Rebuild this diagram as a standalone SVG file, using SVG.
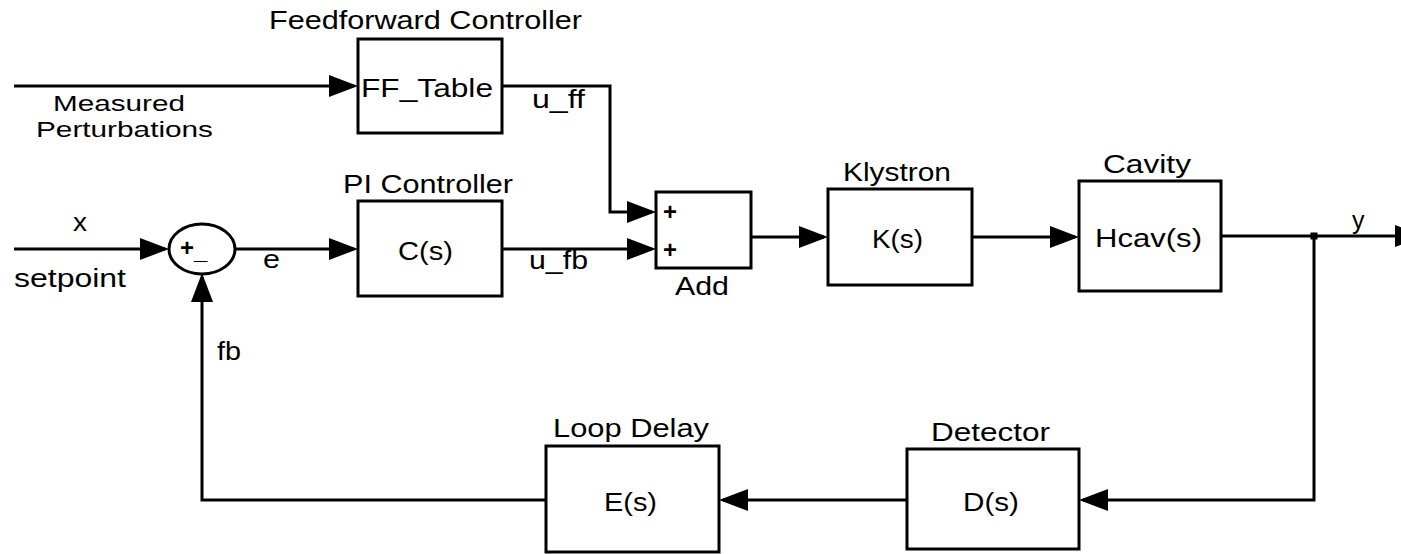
<svg xmlns="http://www.w3.org/2000/svg" width="1401" height="554" viewBox="0 0 1401 554">
<style>
  .blk { fill: #ffffff; stroke: #000000; stroke-width: 3; }
  .wire { fill: none; stroke: #000000; stroke-width: 3; marker-end: url(#arr); }
  text { font-family: "Liberation Sans", Arial, sans-serif; font-size: 25px; fill: #000000; }
  .sm { font-size: 24px; font-weight: bold; }
  .two { font-size: 22px; }
</style>
<defs>
  <marker id="arr" markerUnits="userSpaceOnUse" markerWidth="30" markerHeight="23" refX="25" refY="11" orient="auto">
    <path d="M0,0 L29,11 L0,22 Z" fill="#000000"/>
  </marker>
</defs>
<rect x="0" y="0" width="1401" height="554" fill="#ffffff"/>

<g id="connectors">
  <path class="wire" d="M14,86 H354"/>
  <path class="wire" d="M502,86 H610 V212 H652"/>
  <path class="wire" d="M14,249 H165"/>
  <path class="wire" d="M235,249 H354"/>
  <path class="wire" d="M502,249 H652"/>
  <path class="wire" d="M751,237 H824"/>
  <path class="wire" d="M972,237 H1075"/>
  <path class="wire" d="M1221,236 H1420"/>
  <path class="wire" d="M1314,236 V500 H1083"/>
  <path class="wire" d="M907,500 H723"/>
  <path class="wire" d="M546,500 H202 V277"/>
  <rect x="1310.5" y="232.5" width="7" height="7" fill="#000000"/>
</g>

<g id="labels">
  <text class="two" x="53" y="111" textLength="132" lengthAdjust="spacingAndGlyphs">Measured</text>
  <text class="two" x="36" y="137" textLength="177" lengthAdjust="spacingAndGlyphs">Perturbations</text>
  <text x="532" y="108" textLength="53" lengthAdjust="spacingAndGlyphs">u_ff</text>
  <text x="73" y="231" textLength="14" lengthAdjust="spacingAndGlyphs">x</text>
  <text x="14" y="287" textLength="112" lengthAdjust="spacingAndGlyphs">setpoint</text>
  <text x="263" y="268" textLength="17" lengthAdjust="spacingAndGlyphs">e</text>
  <text x="529" y="269" textLength="59" lengthAdjust="spacingAndGlyphs">u_fb</text>
  <text x="1352" y="229">y</text>
  <text x="217" y="360" textLength="24" lengthAdjust="spacingAndGlyphs">fb</text>
</g>

<g id="ff_table">
  <text x="269" y="29" textLength="313" lengthAdjust="spacingAndGlyphs">Feedforward Controller</text>
  <rect class="blk" x="358" y="39" width="144" height="94"/>
  <text x="361" y="97" textLength="132" lengthAdjust="spacingAndGlyphs">FF_Table</text>
</g>

<g id="sum">
  <ellipse class="blk" cx="202" cy="249" rx="33" ry="25" stroke-width="2.5"/>
  <text class="sm" x="180" y="256">+</text>
  <text class="sm" x="194" y="259">_</text>
</g>

<g id="pi_controller">
  <text x="343" y="193" textLength="170" lengthAdjust="spacingAndGlyphs">PI Controller</text>
  <rect class="blk" x="358" y="201" width="144" height="95"/>
  <text x="398" y="260" textLength="55" lengthAdjust="spacingAndGlyphs">C(s)</text>
</g>

<g id="add">
  <rect class="blk" x="656" y="192" width="95" height="76"/>
  <text class="sm" x="663" y="220">+</text>
  <text class="sm" x="663" y="258">+</text>
  <text x="675" y="295" textLength="54" lengthAdjust="spacingAndGlyphs">Add</text>
</g>

<g id="klystron">
  <text x="843" y="181" textLength="108" lengthAdjust="spacingAndGlyphs">Klystron</text>
  <rect class="blk" x="828" y="189" width="144" height="96"/>
  <text x="872" y="248" textLength="51" lengthAdjust="spacingAndGlyphs">K(s)</text>
</g>

<g id="cavity">
  <text x="1103" y="173" textLength="88" lengthAdjust="spacingAndGlyphs">Cavity</text>
  <rect class="blk" x="1079" y="181" width="142" height="110"/>
  <text x="1095" y="247" textLength="107" lengthAdjust="spacingAndGlyphs">Hcav(s)</text>
</g>

<g id="detector">
  <text x="931" y="441" textLength="119" lengthAdjust="spacingAndGlyphs">Detector</text>
  <rect class="blk" x="907" y="449" width="172" height="100"/>
  <text x="963" y="511" textLength="56" lengthAdjust="spacingAndGlyphs">D(s)</text>
</g>

<g id="loop_delay">
  <text x="553" y="437" textLength="156" lengthAdjust="spacingAndGlyphs">Loop Delay</text>
  <rect class="blk" x="546" y="446" width="173" height="106"/>
  <text x="604" y="511" textLength="53" lengthAdjust="spacingAndGlyphs">E(s)</text>
</g>
</svg>
